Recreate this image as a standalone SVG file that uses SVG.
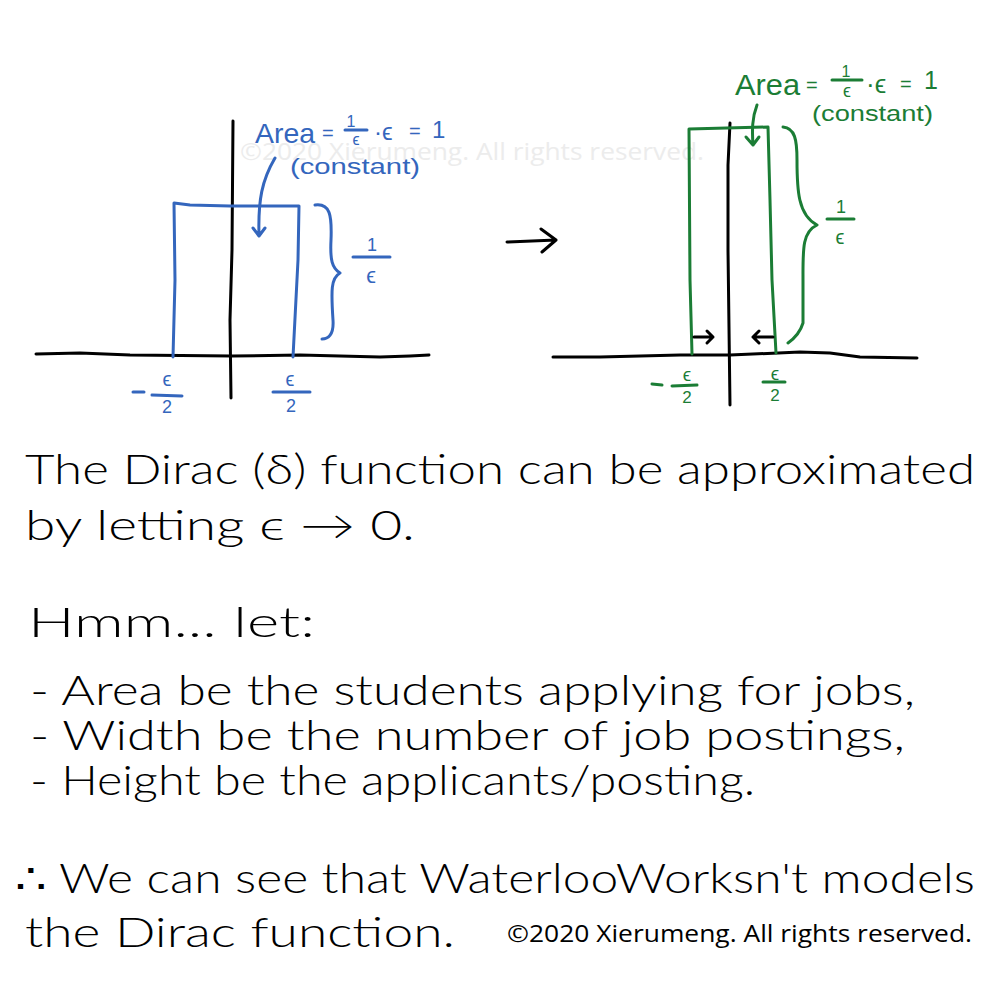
<svg xmlns="http://www.w3.org/2000/svg" width="1000" height="1000" viewBox="0 0 1000 1000">
<style>
.ink{fill:none;stroke:#000;stroke-width:3;stroke-linecap:round;stroke-linejoin:round}
.blue{fill:none;stroke:#3466bd;stroke-width:3;stroke-linecap:round;stroke-linejoin:round}
.green{fill:none;stroke:#1b7d35;stroke-width:3;stroke-linecap:round;stroke-linejoin:round}
.hw{font-family:Lato,"Liberation Sans",sans-serif;font-weight:300;font-size:41px;fill:#000}
.bt{font-family:"Liberation Sans","DejaVu Sans",sans-serif;fill:#3466bd}
.gt{font-family:"Liberation Sans","DejaVu Sans",sans-serif;fill:#1b7d35}
.copy{font-family:"Open Sans","Liberation Sans",sans-serif;font-size:24px}
</style>
<rect width="1000" height="1000" fill="#fff"/>
<text class="copy" x="240" y="160" fill="#ececec" textLength="464" lengthAdjust="spacingAndGlyphs">©2020 Xierumeng. All rights reserved.</text>

<g id="left-graph">
<polyline class="ink" points="36,354 80,353 130,355 232,356 300,355 340,356 380,357 410,356 429,355"/>
<polyline class="ink" points="233,121 232,250 230,320 231,398"/>
<path class="blue" d="M173,357 L175,280 L174,203 L190,205 L230,206 L299,206 L298,260 L293,357"/>
<path class="blue" d="M315,205 C330,203 332,215 331,240 C330,260 332,268 340,273 C331,278 331,290 333,320 C334,335 328,339 322,339"/>
<path class="blue" d="M275,158 C262,180 258,200 259,235 M253,228 L259,236 L265,228"/>
<g id="left-area-label">
<text class="bt" x="255" y="143" font-size="28" textLength="60" lengthAdjust="spacingAndGlyphs">Area</text>
<text class="bt" x="322" y="140" font-size="20">=</text>
<text class="bt" x="351" y="127" font-size="16" text-anchor="middle">1</text>
<line class="blue" x1="345" y1="130" x2="367" y2="130" stroke-width="2.5"/>
<text class="bt" x="356" y="145" font-size="16" text-anchor="middle">ϵ</text>
<text class="bt" x="374" y="140" font-size="24">·ϵ</text>
<text class="bt" x="409" y="138" font-size="20">=</text>
<text class="bt" x="432" y="138" font-size="24">1</text>
<text class="bt" x="290" y="174" font-size="22" textLength="130" lengthAdjust="spacingAndGlyphs">(constant)</text>
</g>
<g id="left-height-label">
<text class="bt" x="372" y="251" font-size="18" text-anchor="middle">1</text>
<line class="blue" x1="353" y1="257" x2="390" y2="257"/>
<text class="bt" x="371" y="283" font-size="22" text-anchor="middle">ϵ</text>
</g>
<g id="left-tick-labels">
<line class="blue" x1="133" y1="392" x2="144" y2="392"/>
<text class="bt" x="167" y="386" font-size="20" text-anchor="middle">ϵ</text>
<line class="blue" x1="152" y1="395" x2="182" y2="396"/>
<text class="bt" x="167" y="413" font-size="18" text-anchor="middle">2</text>
<text class="bt" x="290" y="386" font-size="20" text-anchor="middle">ϵ</text>
<line class="blue" x1="273" y1="392" x2="310" y2="392"/>
<text class="bt" x="291" y="412" font-size="18" text-anchor="middle">2</text>
</g>
</g>

<g id="transition-arrow">
<path class="ink" d="M507,242 L556,240 M541,229 L556,240 L542,252"/>
</g>

<g id="right-graph">
<polyline class="ink" points="553,357 600,357 680,355 730,355 800,352 830,353 860,357 917,358"/>
<polyline class="ink" points="730,123 728,165 728,250 730,405"/>
<path class="green" d="M692,354 L690,280 L689,129 L768,127 L770,200 L772,280 L776,353"/>
<path class="green" d="M783,127 C795,128 797,140 797,160 C797,190 798,215 817,225 C802,232 803,250 803,280 L803,323 C800,333 795,338 788,343"/>
<path class="green" d="M757,105 C752,118 752,130 753,145 M746,137 L753,145 L759,137"/>
<path class="ink" d="M694,337 L713,337 M707,331 L713,337 L707,343"/>
<path class="ink" d="M773,337 L753,337 M759,331 L753,337 L759,343"/>
<g id="right-area-label">
<text class="gt" x="735" y="95" font-size="29" textLength="65" lengthAdjust="spacingAndGlyphs">Area</text>
<text class="gt" x="806" y="92" font-size="20">=</text>
<text class="gt" x="846" y="77" font-size="16" text-anchor="middle">1</text>
<line class="green" x1="832" y1="80" x2="862" y2="80" stroke-width="2.5"/>
<text class="gt" x="847" y="97" font-size="18" text-anchor="middle">ϵ</text>
<text class="gt" x="866" y="93" font-size="26">·ϵ</text>
<text class="gt" x="900" y="91" font-size="20">=</text>
<text class="gt" x="924" y="89" font-size="25">1</text>
<text class="gt" x="812" y="121" font-size="22" textLength="121" lengthAdjust="spacingAndGlyphs">(constant)</text>
</g>
<g id="right-height-label">
<text class="gt" x="841" y="213" font-size="18" text-anchor="middle">1</text>
<line class="green" x1="827" y1="219" x2="854" y2="219"/>
<text class="gt" x="840" y="244" font-size="20" text-anchor="middle">ϵ</text>
</g>
<g id="right-tick-labels">
<line class="green" x1="652" y1="384" x2="662" y2="385"/>
<text class="gt" x="687" y="381" font-size="19" text-anchor="middle">ϵ</text>
<line class="green" x1="672" y1="386" x2="697" y2="385"/>
<text class="gt" x="687" y="403" font-size="17" text-anchor="middle">2</text>
<text class="gt" x="775" y="380" font-size="19" text-anchor="middle">ϵ</text>
<line class="green" x1="763" y1="382" x2="785" y2="382"/>
<text class="gt" x="775" y="401" font-size="17" text-anchor="middle">2</text>
</g>
</g>

<g id="notes">
<text class="hw" x="25" y="484" textLength="950" lengthAdjust="spacingAndGlyphs">The Dirac (δ) function can be approximated</text>
<text class="hw" x="25" y="540" textLength="390" lengthAdjust="spacingAndGlyphs">by letting ϵ → 0.</text>
<text class="hw" x="28" y="637" textLength="287" lengthAdjust="spacingAndGlyphs">Hmm... let:</text>
<text class="hw" x="30" y="705" textLength="885" lengthAdjust="spacingAndGlyphs">- Area be the students applying for jobs,</text>
<text class="hw" x="30" y="750" textLength="875" lengthAdjust="spacingAndGlyphs">- Width be the number of job postings,</text>
<text class="hw" x="30" y="795" textLength="725" lengthAdjust="spacingAndGlyphs">- Height be the applicants/posting.</text>
<text class="hw" x="15" y="893" textLength="960" lengthAdjust="spacingAndGlyphs">∴ We can see that WaterlooWorksn't models</text>
<text class="hw" x="25" y="947" textLength="430" lengthAdjust="spacingAndGlyphs">the Dirac function.</text>
</g>
<text class="copy" x="507" y="942" fill="#000" textLength="465" lengthAdjust="spacingAndGlyphs">©2020 Xierumeng. All rights reserved.</text>
</svg>
